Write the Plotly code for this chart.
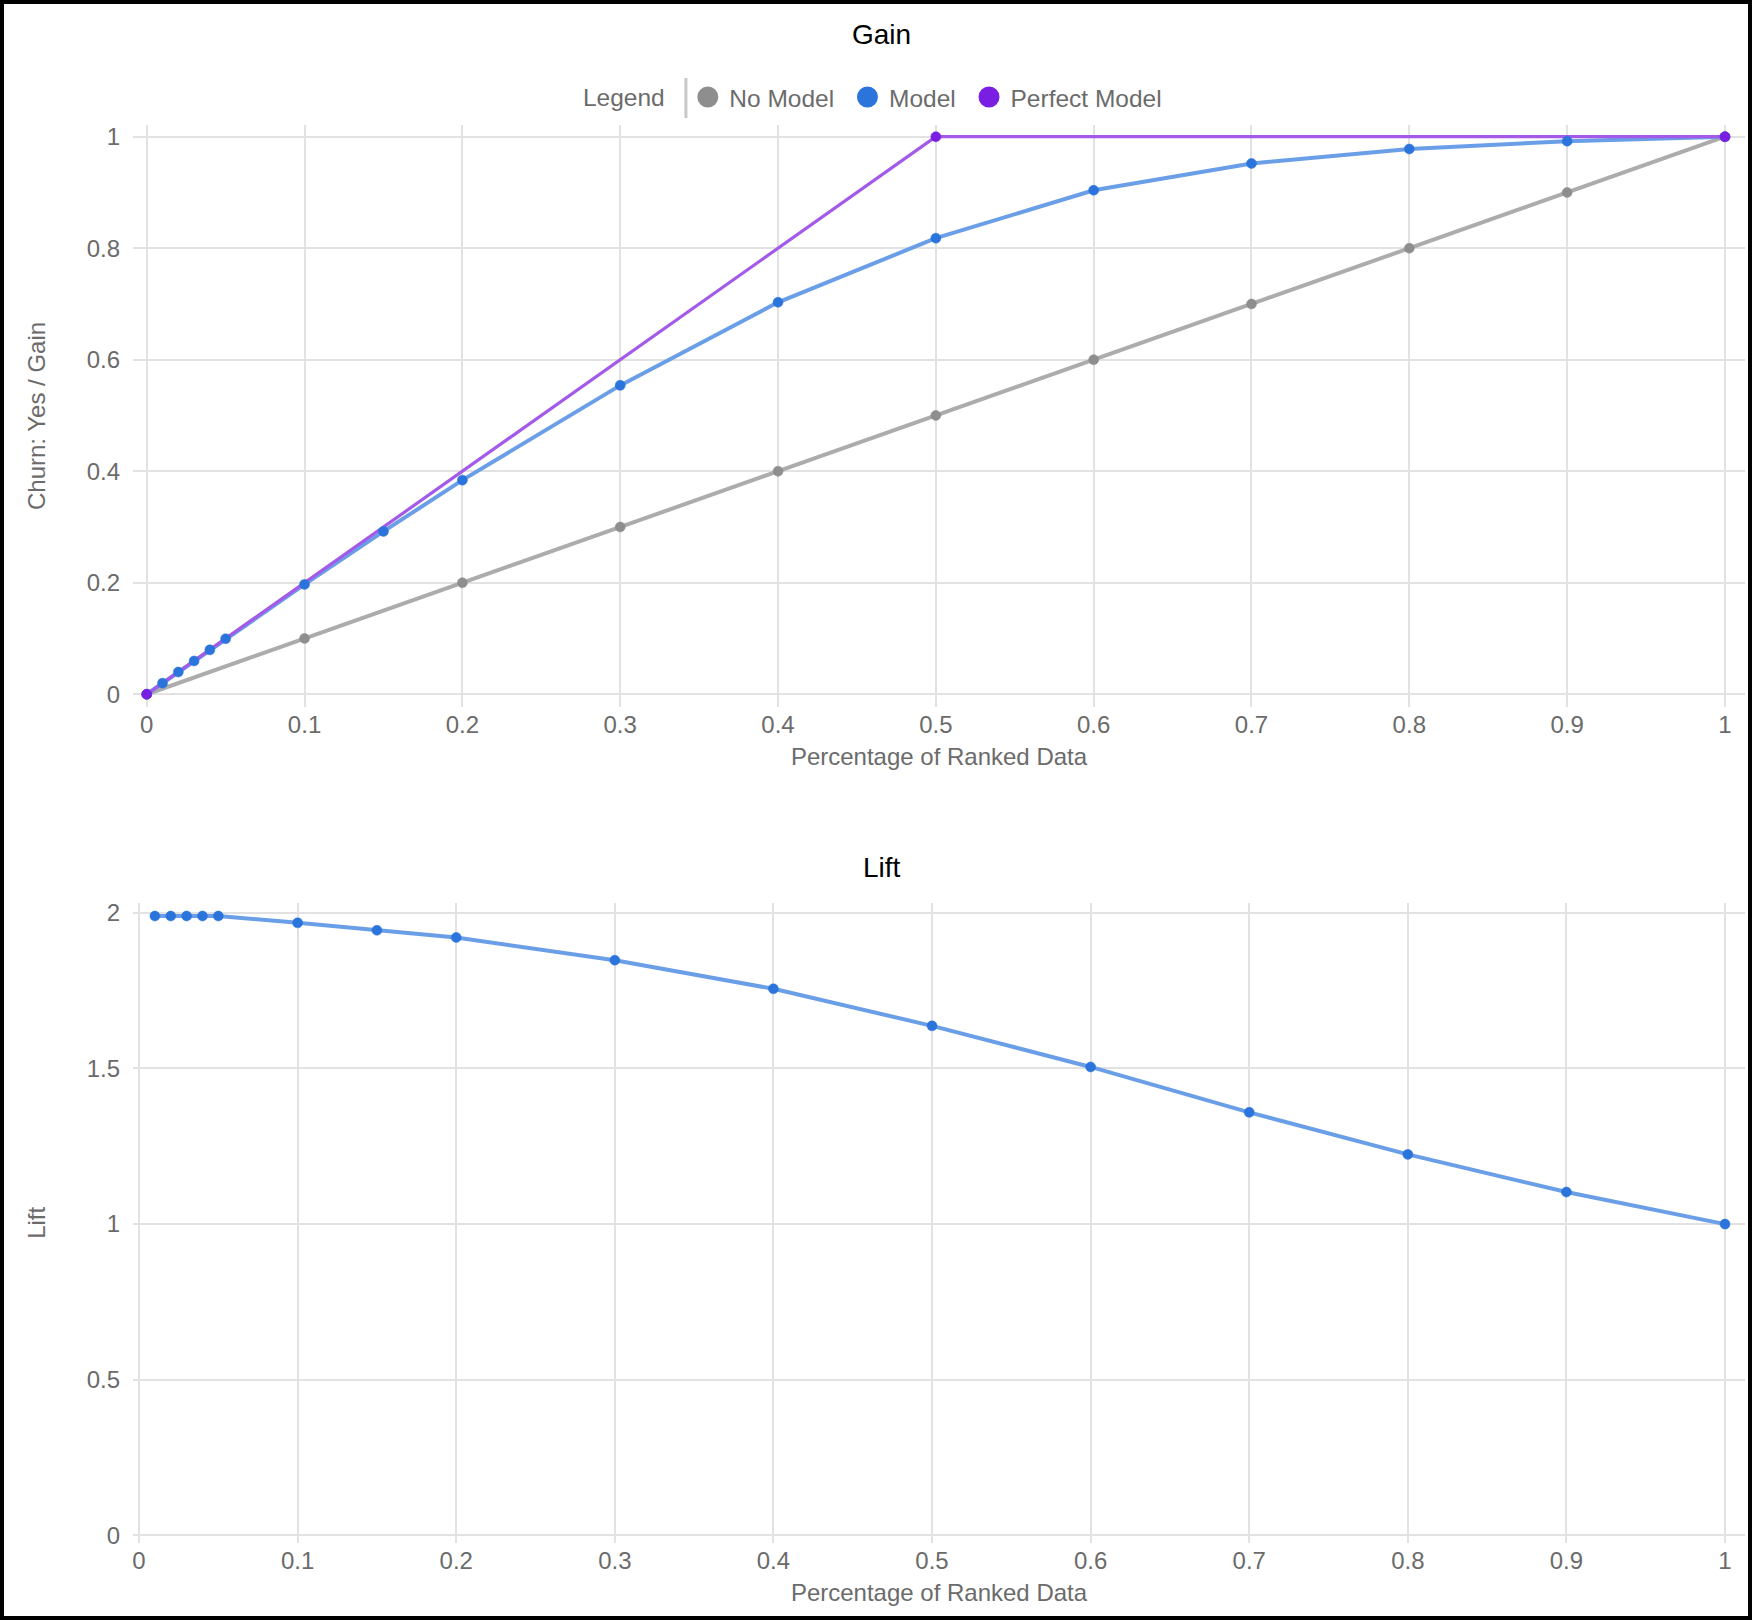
import plotly.graph_objects as go
from plotly.subplots import make_subplots

# Gain chart data
pct_no_model = [0, 0.1, 0.2, 0.3, 0.4, 0.5, 0.6, 0.7, 0.8, 0.9, 1.0]
gain_no_model = [0, 0.1, 0.2, 0.3, 0.4, 0.5, 0.6, 0.7, 0.8, 0.9, 1.0]

pct_model = [0, 0.01, 0.02, 0.03, 0.04, 0.05, 0.1, 0.15, 0.2, 0.3, 0.4, 0.5, 0.6, 0.7, 0.8, 0.9, 1.0]
gain_model = [0, 0.0199, 0.0398, 0.0597, 0.0796, 0.0995, 0.197, 0.292, 0.384, 0.554, 0.703,
              0.818, 0.904, 0.952, 0.978, 0.992, 1.0]

pct_perfect = [0, 0.5, 1.0]
gain_perfect = [0, 1.0, 1.0]

# Lift chart data
pct_lift = [0.01, 0.02, 0.03, 0.04, 0.05, 0.1, 0.15, 0.2, 0.3, 0.4, 0.5, 0.6, 0.7, 0.8, 0.9, 1.0]
lift_model = [1.99, 1.99, 1.99, 1.99, 1.99, 1.968, 1.944, 1.921, 1.848, 1.756, 1.637,
              1.505, 1.359, 1.224, 1.103, 1.0]

series_names = ['No Model', 'Model', 'Perfect Model']
marker_colors = ['#8e8e8e', '#2b74dc', '#7a1ee3']
line_colors = ['#acacac', '#6a9fe8', '#a35ae9']
line_widths = [4, 4, 3.2]

FONT = 'Liberation Sans, Arial, sans-serif'
TICK_GRAY = '#6b6b6b'
GRID = '#e2e2e2'
NBSP = '\u00a0'

fig = make_subplots(rows=2, cols=1)

gain_x = [pct_no_model, pct_model, pct_perfect]
gain_y = [gain_no_model, gain_model, gain_perfect]

# lines first, markers on top (as in the original renderer)
for i in range(3):
    fig.add_trace(go.Scatter(x=gain_x[i], y=gain_y[i], mode='lines', showlegend=False,
                             line=dict(color=line_colors[i], width=line_widths[i]),
                             hoverinfo='skip'), row=1, col=1)
for i in range(3):
    fig.add_trace(go.Scatter(x=gain_x[i], y=gain_y[i], mode='markers', name=series_names[i],
                             showlegend=False,
                             marker=dict(color=marker_colors[i], size=10,
                                         line=dict(color=marker_colors[i], width=0.5))),
                  row=1, col=1)

# legend-only entries (big circles)
for i in range(3):
    fig.add_trace(go.Scatter(x=[None], y=[None], mode='markers', name=series_names[i] + NBSP,
                             marker=dict(color=marker_colors[i], size=16,
                                         line=dict(color=marker_colors[i], width=5))),
                  row=1, col=1)

fig.add_trace(go.Scatter(x=pct_lift, y=lift_model, mode='lines', showlegend=False,
                         line=dict(color=line_colors[1], width=4), hoverinfo='skip'),
              row=2, col=1)
fig.add_trace(go.Scatter(x=pct_lift, y=lift_model, mode='markers', name='Model', showlegend=False,
                         marker=dict(color=marker_colors[1], size=10,
                                     line=dict(color=marker_colors[1], width=0.5))),
              row=2, col=1)

axis_common = dict(showgrid=True, gridcolor=GRID, gridwidth=1.5, zeroline=False, showline=False,
                   ticks='', tickfont=dict(size=24, color=TICK_GRAY, family=FONT))

fig.update_xaxes(axis_common, tick0=0, dtick=0.1, ticklabelstandoff=1,
                 title=dict(text='Percentage of Ranked Data', standoff=11,
                            font=dict(size=24, color=TICK_GRAY, family=FONT)))
fig.update_xaxes(range=[-0.0087, 1.0127], row=1, col=1)
fig.update_xaxes(range=[-0.0038, 1.0126], row=2, col=1)

fig.update_yaxes(axis_common, ticklabelstandoff=12)
fig.update_yaxes(range=[-0.0228, 1.021], tick0=0, dtick=0.2, row=1, col=1, domain=[0.5896, 1.0],
                 title=dict(text='Churn: Yes / Gain', standoff=34,
                            font=dict(size=24, color=TICK_GRAY, family=FONT)))
fig.update_yaxes(range=[-0.0248, 2.033], tick0=0, dtick=0.5, row=2, col=1, domain=[0.0, 0.4516],
                 title=dict(text='Lift', standoff=34,
                            font=dict(size=24, color=TICK_GRAY, family=FONT)))

fig.update_layout(
    width=1744, height=1612,
    margin=dict(l=129, r=3, t=121, b=73),
    paper_bgcolor='white', plot_bgcolor='white',
    font=dict(family=FONT, color=TICK_GRAY),
    legend=dict(orientation='h', x=0.4618, xanchor='center', y=1.0197, yanchor='middle',
                bgcolor='rgba(0,0,0,0)',
                title=dict(text='Legend' + NBSP * 2, font=dict(size=24.5, color=TICK_GRAY),
                           side='left'),
                font=dict(size=24.5, color=TICK_GRAY), itemwidth=33, tracegroupgap=0),
    annotations=[
        dict(text='Gain', xref='paper', yref='paper', x=0.4646, y=1.064, showarrow=False,
             font=dict(size=28, color='black', family=FONT), xanchor='center', yanchor='middle'),
        dict(text='Lift', xref='paper', yref='paper', x=0.4646, y=0.4767, showarrow=False,
             font=dict(size=28, color='black', family=FONT), xanchor='center', yanchor='middle'),
    ],
    shapes=[dict(type='line', xref='paper', yref='paper', x0=0.343, x1=0.343, y0=1.0049, y1=1.0331,
                 line=dict(color='#c8c8c8', width=3))],
)

fig.write_html('out.html',
               post_script="document.body.style.margin='4px';"
                           "document.body.style.background='black';"
                           "document.body.style.overflow='hidden';")
